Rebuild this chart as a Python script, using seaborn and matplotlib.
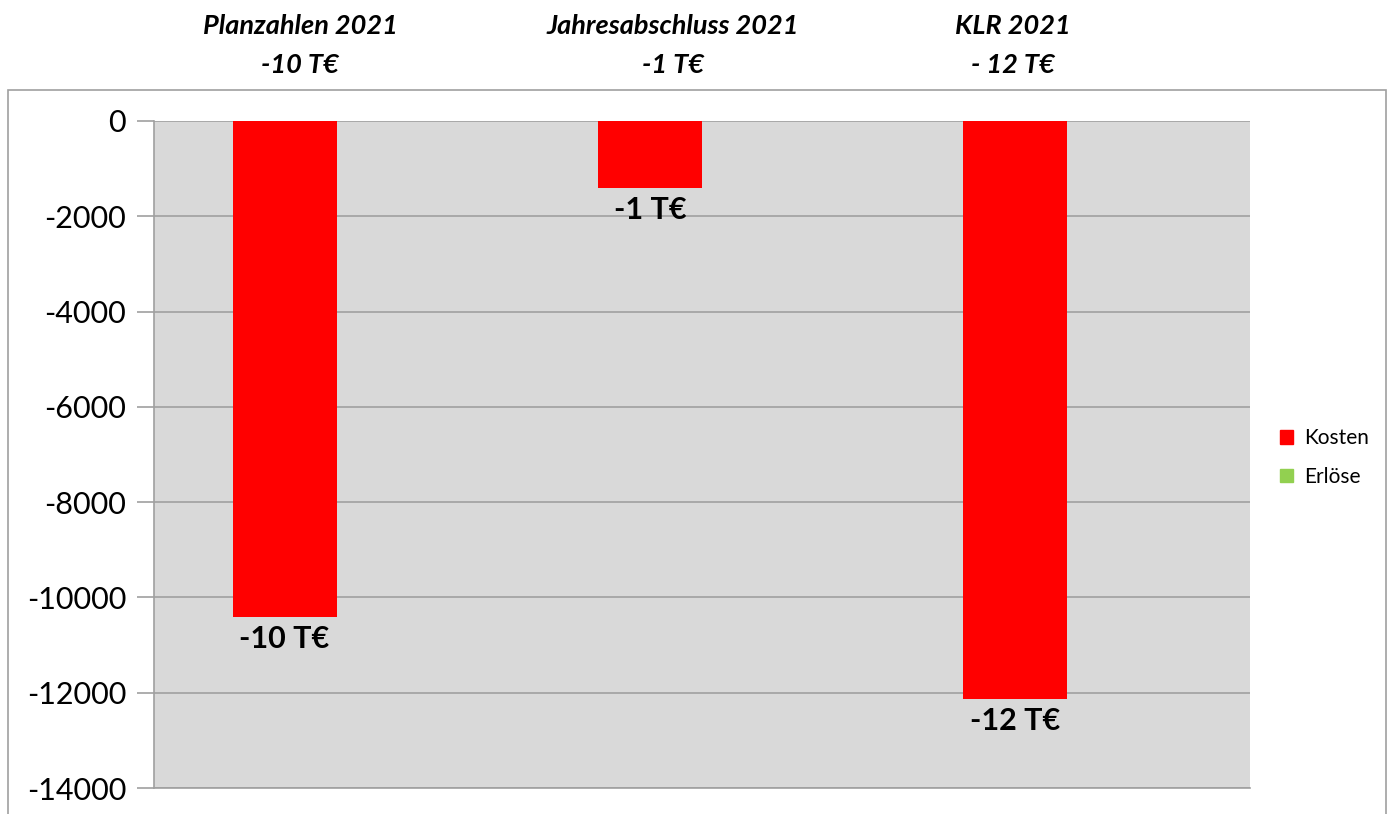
import matplotlib
matplotlib.use("Agg")
import matplotlib.pyplot as plt
import matplotlib.patches as mpatches
import numpy as np
import pandas as pd
import seaborn as sns


# values (Euro)
categories = ["Planzahlen 2021", "Jahresabschluss 2021", "KLR 2021"]
kosten = [-10400, -1400, -12130]
erloese = [0, 0, 0]
bar_labels = ["-10 T€", "-1 T€", "-12 T€"]
head_labels = ["Planzahlen 2021\n-10 T€", "Jahresabschluss 2021\n-1 T€", "KLR 2021\n- 12 T€"]
head_x = [-0.10, 0.92, 1.85]
yticks = [0, -2000, -4000, -6000, -8000, -10000, -12000, -14000]

sns.set_style("white")
plt.rcParams["font.family"] = ["Lato", "DejaVu Sans"]
plt.rcParams["text.color"] = "black"
plt.rcParams["ytick.labelcolor"] = "black"

df = pd.DataFrame({
	"cat": categories * 2,
	"serie": ["Kosten"] * 3 + ["Erlöse"] * 3,
	"wert": kosten + erloese,
})

fig = plt.figure(figsize=(13.92, 8.14), dpi=100)
ax = fig.add_axes([0.1106, 0.0319, 0.7874, 0.8195])
ax.set_facecolor("#D9D9D9")

sns.barplot(data=df, x="cat", y="wert", hue="serie", hue_order=["Kosten", "Erlöse"],
	palette={"Kosten": "#FF0000", "Erlöse": "#92D050"}, width=0.57, gap=0,
	saturation=1, ax=ax, legend=False, errorbar=None, linewidth=0)

ax.set_ylim(-14000, 0)
ax.set_xlim(-0.5, 2.5)
ax.set_yticks(yticks)
ax.set_yticklabels([str(v) for v in yticks], fontsize=22)
ax.set_xticks([])
ax.set_xlabel("")
ax.set_ylabel("")
ax.yaxis.grid(True, color="#A0A0A0", linewidth=1.2)
ax.set_axisbelow(True)
for s in ["top", "right"]:
	ax.spines[s].set_visible(False)
ax.spines["left"].set_color("#A0A0A0")
ax.spines["bottom"].set_color("#A0A0A0")
ax.spines["left"].set_linewidth(1.2)
ax.spines["bottom"].set_linewidth(1.2)
ax.tick_params(axis="y", length=12, color="#A0A0A0", width=1.2, pad=8, left=True)

# value labels below the Kosten bars
for bar, lab in zip(ax.patches[:3], bar_labels):
	cx = bar.get_x() + bar.get_width() / 2
	bottom = bar.get_y() + bar.get_height()
	ax.annotate(lab, (cx, bottom), xytext=(0, -6), textcoords="offset points",
		ha="center", va="top", fontsize=22, fontweight="bold", color="black",
		annotation_clip=False)

# headings above the plot
for x, lab in zip(head_x, head_labels):
	ax.text(x, 1.16, lab, ha="center", va="top", fontsize=19.5, fontweight="bold",
		fontstyle="italic", linespacing=1.72, color="black",
		transform=ax.get_xaxis_transform())

# legend
handles = [mpatches.Patch(color="#FF0000", label="Kosten"),
	mpatches.Patch(color="#92D050", label="Erlöse")]
fig.legend(handles=handles, loc="center left", bbox_to_anchor=(0.906, 0.438),
	frameon=False, fontsize=15, handlelength=0.65, handleheight=0.65,
	handletextpad=0.5, labelspacing=0.9)

# outer chart border
fig.patches.append(mpatches.Rectangle((0.006, -0.05), 0.9895, 0.939, fill=False,
	edgecolor="#A0A0A0", linewidth=1.2, transform=fig.transFigure, figure=fig))

fig.savefig("out.png", dpi=100)
